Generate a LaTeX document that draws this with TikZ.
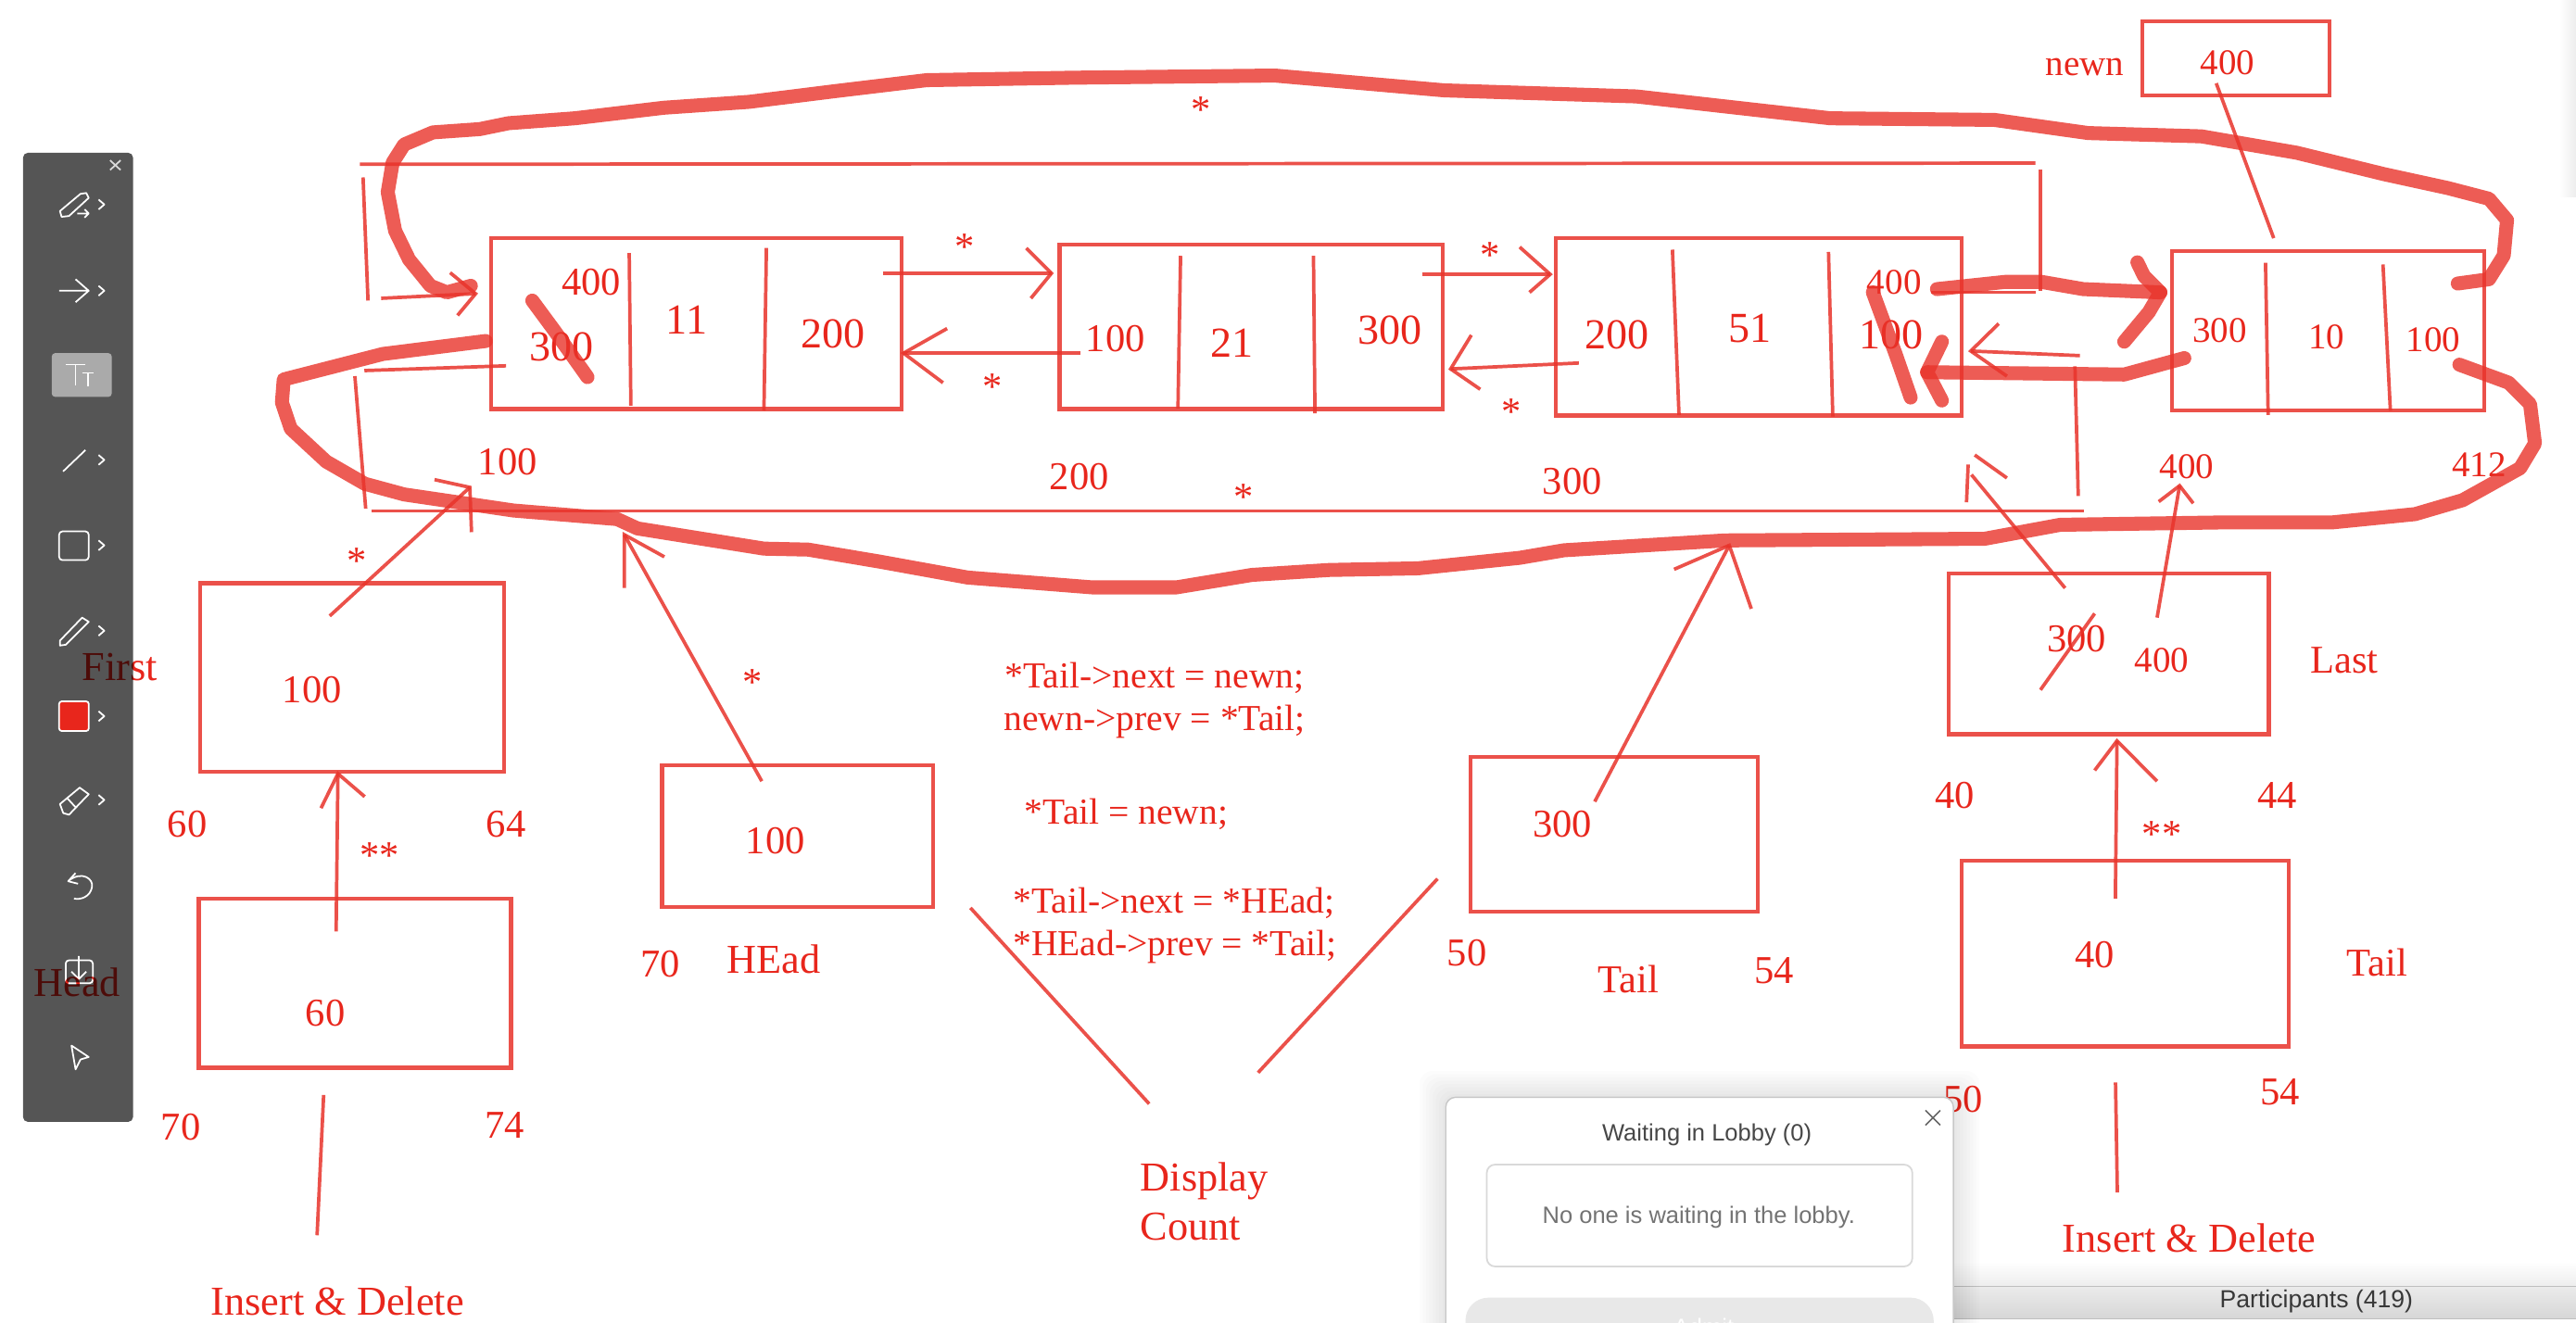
\documentclass[tikz,border=0pt]{standalone}
\usepackage{fontspec}
\setmainfont{Liberation Serif}
\newfontfamily\uifont{Liberation Sans}
\definecolor{inkred}{HTML}{E8261C}
\definecolor{penred}{HTML}{E8332A}
\definecolor{toolgray}{HTML}{555555}
\tikzset{
  listbox/.style={draw=penred,draw opacity=.85,line width=2.4pt,inner sep=0pt},
  penline/.style={draw=penred,draw opacity=.85,line width=2.1pt},
  thickpen/.style={draw=penred,draw opacity=.8,line width=8.5pt,line cap=round,line join=round},
  lab/.style={text=inkred,inner sep=0pt,font=\fontsize{24}{28}\selectfont},
  labsmall/.style={lab,font=\fontsize{22}{26}\selectfont},
  labbig/.style={lab,font=\fontsize{26}{30}\selectfont},
  labword/.style={lab,font=\fontsize{25}{30}\selectfont},
  codeline/.style={labsmall,anchor=base west,font=\fontsize{22.3}{26}\selectfont},
  staricon/.style={lab,font=\fontsize{24}{28}\selectfont},
  toolicon/.style={draw=white,line width=1pt,line join=round},
  uitext/.style={inner sep=0pt,font=\uifont\fontsize{14.4}{17}\selectfont},
}
\begin{document}
\begin{tikzpicture}[x=1pt,y=-1pt]
    \useasboundingbox (0,0) rectangle (1568,805.4);
    \shade[left color=white,right color=black!7] (1558,0) rectangle (1568,120);
    \shade[top color=white,bottom color=black!7] (1189,768) rectangle (1568,783);
    \shade[top color=black!8,bottom color=black!16] (1189,783) rectangle (1568,803);
    \draw[black!25,line width=.8pt] (1189,783) -- (1568,783) (1189,803) -- (1568,803);
    % toolbar
    \fill[toolgray,rounded corners=3pt] (14,93) rectangle (81,683);
    \fill[white!50!toolgray,rounded corners=2pt] (31.5,215) rectangle (68,241.6);
    \draw[toolicon,black!15] (67,97.6) -- (73.4,103.5) (67,103.5) -- (73.4,97.6);
    \foreach \y in {124.5,177,280,332,384,436,487}
      \draw[toolicon] (60,{\y-3}) -- (63.5,\y) -- (60,{\y+3});
    \draw[toolicon] (36.5,128.5) -- (49,118) -- (52.5,117.5) -- (54,120.5) -- (42,131.5) -- (37.5,132) -- cycle;
    \draw[toolicon] (47,130) -- (54,130) (51.5,127.5) -- (54,130) -- (51.5,132.5);
    \draw[toolicon] (36,177) -- (54,177) (46,170) -- (54,177) -- (46,184);
    \draw[toolicon] (40,222) -- (52,222) (46,222) -- (46,234.5) (50,227) -- (57,227) (53.5,227) -- (53.5,235);
    \draw[toolicon] (38.4,287) -- (52,274);
    \draw[toolicon,rounded corners=2pt] (36,323.5) rectangle (54,341);
    \draw[toolicon] (36.5,390) -- (50,376) -- (54,378.5) -- (40,392.5) -- (36.5,393) -- cycle;
    \draw[toolicon,fill=inkred,rounded corners=1.5pt] (36,427) rectangle (54,445);
    \draw[toolicon] (36.5,489.5) -- (48.5,479.5) -- (54,483.5) -- (42,496) -- (38.5,495) -- cycle (41,486) -- (46.5,492);
    \draw[toolicon] (46,531.5) -- (41.5,536.5) -- (47.5,538);
    \draw[toolicon] (42,536) .. controls (50,530) and (57,535) .. (56,540) .. controls (55,546) and (49,548) .. (45,547);
    \draw[toolicon,rounded corners=2pt] (40,584.6) rectangle (56.5,598.6);
    \draw[toolicon] (48,582) -- (48,596) (43.5,591.5) -- (48,596) -- (52.5,591.5);
    \draw[toolicon] (43.5,636.5) -- (54,643.5) -- (49,645) -- (46,651) -- cycle;
    % boxes
    \draw
      (424,197) node[listbox,minimum width=250pt,minimum height=104pt] (cellA){}
      (761.5,199) node[listbox,minimum width=233pt,minimum height=100pt] (cellB){}
      (1070.5,199) node[listbox,minimum width=247pt,minimum height=108pt] (cellC){}
      (1417,201.5) node[listbox,minimum width=190pt,minimum height=97pt] (cellD){}
      (1361,35.5) node[listbox,minimum width=114pt,minimum height=45pt] (newnbox){}
      (214.5,412.5) node[listbox,minimum width=185pt,minimum height=115pt] (firstbox){}
      (216,598.5) node[listbox,minimum width=190pt,minimum height=103pt] (headptr){}
      (485.5,509) node[listbox,minimum width=165pt,minimum height=86pt] (headbox){}
      (982.5,508) node[listbox,minimum width=175pt,minimum height=94pt] (tailbox){}
      (1283.5,398) node[listbox,minimum width=195pt,minimum height=98pt] (lastbox){}
      (1293.5,580.5) node[listbox,minimum width=199pt,minimum height=113pt] (tailptr){};
    % dividers
    \begin{scope}[penline]
      \draw (383,154) -- (384,247);
      \draw (466.5,151) -- (465,250);
      \draw (718.6,155.8) -- (717,248.7);
      \draw (799.5,155.8) -- (800.4,251.6);
      \draw (1018,152) -- (1022,252.7);
      \draw (1113,153.4) -- (1115.6,253.6);
      \draw (1379,160) -- (1380.6,252.6);
      \draw (1450.5,161) -- (1455,250);
    \end{scope}
    % labels
    \draw
      (360,172) node[lab] (a0){400}
      (342,211) node[labbig] (a1){300}
      (418,195) node[labbig] (a2){11}
      (507,203) node[labbig] (a3){200}
      (679,206) node[lab] (b0){100}
      (750,209) node[labbig] (b1){21}
      (846,201) node[labbig] (b2){300}
      (984,204) node[labbig] (c0){200}
      (1065,200) node[labbig] (c1){51}
      (1153,172) node[labsmall] (c2){400}
      (1151,204) node[labbig] (c3){100}
      (1351,201) node[labsmall] (d0){300}
      (1416,205) node[labsmall] (d1){10}
      (1481,207) node[labsmall] (d2){100}
      (1269,41) node[labsmall] (newnlab){newn}
      (1356,38) node[labsmall] (newnval){400}
      (309,281) node[lab] (addrA){100}
      (657,290) node[lab] (addrB){200}
      (957,293) node[lab] (addrC){300}
      (1331,284) node[labsmall] (addrD){400}
      (1509,283) node[labsmall] (addrE){412}
      (190,420) node[lab] (firstval){100}
      (114,502) node[lab] (firstlo){60}
      (308,502) node[lab] (firsthi){64}
      (198,617) node[lab] (headptrval){60}
      (110,686) node[lab] (headptrlo){70}
      (307,685) node[lab] (headptrhi){74}
      (205.5,792) node[labword] (insertA){Insert \& Delete}
      (472,512) node[lab] (headval){100}
      (402,587) node[lab] (headlo){70}
      (471,584) node[labword] (headname){HEad}
      (951,502) node[lab] (tailval){300}
      (893,580) node[lab] (taillo){50}
      (991,596) node[lab] (tailname){Tail}
      (1080,591) node[lab] (tailhi){54}
      (1264,389) node[lab] (lastold){300}
      (1316,402) node[labsmall] (lastval){400}
      (1427,402) node[lab] (lastname){Last}
      (1190,484) node[lab] (lastlo){40}
      (1386,484) node[lab] (lasthi){44}
      (1275,581) node[lab] (tailptrval){40}
      (1447,586) node[lab] (tailptrname){Tail}
      (1195,669) node[lab] (tailptrlo){50}
      (1388,665) node[lab] (tailptrhi){54}
      (1332.5,754) node[labword] (insertB){Insert \& Delete}
      (694,719) node[labword,anchor=west] (countA){Display}
      (694,747) node[labword,anchor=west] (countB){Count};
    \draw
      (611.5,419) node[codeline] (code0){*Tail->next = newn;}
      (611,445) node[codeline] (code1){newn->prev = *Tail;}
      (623.5,501.5) node[codeline] (code2){*Tail = newn;}
      (616.5,555.7) node[codeline] (code3){*Tail->next = *HEad;}
      (616.5,581.6) node[codeline] (code4){*HEad->prev = *Tail;};
    \draw
      (731,67) node[staricon] (star0){*}
      (587,150.5) node[staricon] (star1){*}
      (907,155.5) node[staricon] (star2){*}
      (604,235.5) node[staricon] (star3){*}
      (920,250.5) node[staricon] (star4){*}
      (757,302.5) node[staricon] (star5){*}
      (217,341.5) node[staricon] (star6){*}
      (458,415.5) node[staricon] (star7){*}
      (231,521) node[staricon] (star8){**}
      (1316,508) node[staricon] (star9){**};
    \begin{scope}[blend mode=multiply]
      \node[labword] (firstlab) at (73,406) {First};
      \node[labword] (headlab) at (47,598) {Head};
    \end{scope}
    % thin lines
    \path
      (219,100) coordinate (top0) (1239,99.3) coordinate (top1)
      (1242,103) coordinate (top2) (1242,177) coordinate (top3)
      (1175.6,178) coordinate (top4) (1239,178) coordinate (top5)
      (221,108) coordinate (top6) (224,183) coordinate (top7)
      (221.8,225.6) coordinate (bot0) (308,222.7) coordinate (bot1)
      (216,229) coordinate (bot2) (222.6,309.6) coordinate (bot3)
      (226,311) coordinate (bot4) (1268.6,311) coordinate (bot5)
      (1263,223) coordinate (bot6) (1265,302) coordinate (bot7)
      (590.7,552.7) coordinate (vee0) (699.5,672) coordinate (vee1)
      (765.8,653) coordinate (vee2) (875,535) coordinate (vee3)
      (197,666.6) coordinate (ins0) (193,752) coordinate (ins1)
      (1287.7,659) coordinate (ins2) (1288.8,726) coordinate (ins3)
      (1349,50.7) coordinate (new0) (1384,145) coordinate (new1)
      (1275,373.5) coordinate (old0) (1242,420) coordinate (old1);
    \begin{scope}[penline]
      \draw (top0) to (top1);
      \draw (top2) to (top3);
      \draw (top4) to (top5);
      \draw (top6) to (top7);
      \draw (bot0) to (bot1);
      \draw (bot2) to (bot3);
      \draw (bot4) to (bot5);
      \draw (bot6) to (bot7);
      \draw (vee0) to (vee1);
      \draw (vee2) to (vee3);
      \draw (ins0) to (ins1);
      \draw (ins2) to (ins3);
      \draw (new0) to (new1);
      \draw (old0) to (old1);
    \end{scope}
    % hand drawn arrows: shaft tail, tip, then the two barbs
    \path
      (232,181.6) coordinate (p0t) (289.5,178.8) coordinate (p0h) (274,166) coordinate (p0u) (278.5,192) coordinate (p0d)
      (537.5,166.4) coordinate (p1t) (640,166.4) coordinate (p1h) (624.7,151) coordinate (p1u) (627.5,181.6) coordinate (p1d)
      (657.6,215) coordinate (p2t) (550,215) coordinate (p2h) (576.5,200) coordinate (p2u) (574,233) coordinate (p2d)
      (865.5,167) coordinate (p3t) (943.6,167) coordinate (p3h) (925,150.4) coordinate (p3u) (931,178) coordinate (p3d)
      (961,221) coordinate (p4t) (883,224.6) coordinate (p4h) (895.6,204) coordinate (p4u) (901,237) coordinate (p4d)
      (1266,216.5) coordinate (p5t) (1199.6,213.7) coordinate (p5h) (1216.6,197) coordinate (p5u) (1221.6,229) coordinate (p5d)
      (200.7,375) coordinate (p6t) (286,296.7) coordinate (p6h) (264.5,292) coordinate (p6u) (287,324) coordinate (p6d)
      (204.6,567) coordinate (p7t) (205.7,471) coordinate (p7h) (195.4,492) coordinate (p7u) (222,485) coordinate (p7d)
      (463.7,475.6) coordinate (p8t) (380,325.5) coordinate (p8h) (380,358) coordinate (p8u) (404.4,339) coordinate (p8d)
      (970.7,488) coordinate (p9t) (1052.6,332) coordinate (p9h) (1019,346.6) coordinate (p9u) (1066,370.6) coordinate (p9d)
      (1257,358) coordinate (p10t) (1200,289) coordinate (p10h) (1197,305.8) coordinate (p10u) (1221.6,291) coordinate (p10d)
      (1313,376) coordinate (p11t) (1326.7,295.7) coordinate (p11h) (1314,305.4) coordinate (p11u) (1335,306.4) coordinate (p11d)
      (1287.6,547) coordinate (p12t) (1288.6,451) coordinate (p12h) (1275,469) coordinate (p12u) (1313,475.6) coordinate (p12d);
    \begin{scope}[penline]
      \foreach \n in {0,...,9,11,12} {
        \draw (p\n t) to (p\n h);
        \draw (p\n u) -- (p\n h) -- (p\n d);
      }
      \draw (p10t) to (p10h);
      \draw (1197,305.8) -- (1198,282.8);
      \draw (1202,277) -- (p10d);
    \end{scope}
    % thick strokes
    \draw[thickpen] (286.6,174) -- (272,178) -- (262,174) -- (249,158) -- (240.5,140.5) -- (236,117) -- (239,99)
      -- (246,88) -- (263.5,80.6) -- (292,78.6) -- (309.6,75) -- (350,72) -- (404,65.6) -- (456,62) -- (509,55.4)
      -- (564,48.8) -- (654,47.3) -- (776,46) -- (879,55) -- (996,58.7) -- (1114,72) -- (1214,73) -- (1271,81)
      -- (1340,83) -- (1398,93) -- (1451,106) -- (1490,114.5) -- (1515,121) -- (1526,134) -- (1524,155.6)
      -- (1515,170) -- (1496,172.6);
    \draw[thickpen] (295.7,207.6) -- (233,215.5) -- (172.7,231) -- (171.6,245) -- (177,261) -- (198.6,281) -- (222,294.5)
      -- (246,301) -- (312.6,310.8) -- (375.6,316) -- (388,321.7) -- (465,334) -- (492,334.6) -- (536,342)
      -- (589,351.6) -- (665,357.6) -- (716,357.6) -- (762,350) -- (809,347) -- (863,346) -- (925,339.6)
      -- (952,335) -- (1050,329) -- (1208,328) -- (1254,319.5) -- (1356,318) -- (1420,318) -- (1470,313)
      -- (1499,304.5) -- (1534,285) -- (1543,270) -- (1540,246) -- (1527,233) -- (1497,222);
    \draw[thickpen] (324,183) -- (338,202) -- (357.6,229.6);
    \draw[thickpen] (1179,176) -- (1220.6,171.6) -- (1242.6,171.6) -- (1268,176) -- (1315,178);
    \draw[thickpen] (1301,159.7) -- (1305,168) -- (1315,178) -- (1308,190) -- (1293,208);
    \draw[thickpen] (1329.6,218) -- (1293,228) -- (1173,226.6);
    \draw[thickpen] (1182,208) -- (1173,226.6) -- (1182,243.8);
    \draw[thickpen] (1140,178) -- (1154,216) -- (1163,242);
    % lobby panel and status bar
    \foreach \s in {2,4,...,16}
      \fill[black,opacity=.012,rounded corners=8pt] ({880-\s},{668-\s}) rectangle ({1189+\s},815);
    \draw[black!22,fill=white,rounded corners=6pt,line width=.8pt] (880,668) rectangle (1189,820);
    \draw[black!15,rounded corners=5pt,line width=1pt] (905,709) rectangle (1164,771);
    \fill[black!9,rounded corners=14pt] (892,790) rectangle (1177,830);
    \draw[black!60,line width=.9pt] (1172,676) -- (1181,685) (1172,685) -- (1181,676);
    \draw
      (1039,691) node[uitext,text=black!72] (lobbytitle){Waiting in Lobby (0)}
      (1034,741) node[uitext,text=black!55] (lobbytext){No one is waiting in the lobby.}
      (1037,808) node[uitext,text=white] (lobbybtn){Admit}
      (1410,792.5) node[uitext,text=black!78,font=\uifont\fontsize{15}{18}\selectfont] (participants){Participants (419)};
\end{tikzpicture}
\end{document}
